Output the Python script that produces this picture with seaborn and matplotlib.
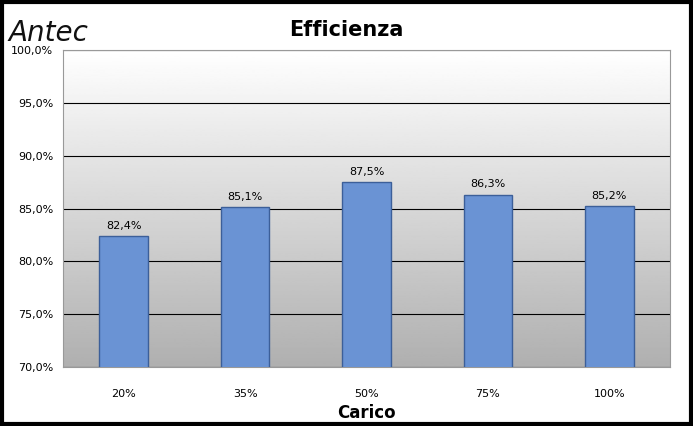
import numpy as np
import pandas as pd
import matplotlib
matplotlib.use('Agg')
import matplotlib.pyplot as plt
import seaborn as sns
from matplotlib.patches import Rectangle

loads = ['20%', '35%', '50%', '75%', '100%']
efficiency = [82.4, 85.1, 87.5, 86.3, 85.2]
yticks = [70, 75, 80, 85, 90, 95, 100]

df = pd.DataFrame({'Carico': loads, 'Efficienza': efficiency})

sns.set_style('white')
plt.rcParams['font.family'] = ['DejaVu Sans']
plt.rcParams['text.color'] = 'black'
plt.rcParams['xtick.color'] = 'black'
plt.rcParams['ytick.color'] = 'black'

fig = plt.figure(figsize=(6.93, 4.26), dpi=100)
ax = fig.add_axes([63/693, 1-367/426, 607/693, 317/426])

# gradient background: white at top, grey at bottom
grad = np.linspace(0, 1, 256).reshape(-1, 1)
ax.imshow(grad, extent=[-0.5, 4.5, 70, 100], aspect='auto', cmap='gray',
          vmin=-2.2, vmax=1, origin='lower', zorder=0)

sns.barplot(data=df, x='Carico', y='Efficienza', color='#6a93d4', width=0.4,
            saturation=1, edgecolor='#3c5f99', linewidth=1, ax=ax, zorder=3)

for i, v in enumerate(efficiency):
    ax.text(i, v + 0.5, f'{v:.1f}%'.replace('.', ','), ha='center', va='bottom',
            fontsize=8, zorder=4)

ax.set_ylim(70, 100)
ax.set_xlim(-0.5, 4.5)
ax.set_yticks(yticks)
ax.set_yticklabels([f'{t:.1f}%'.replace('.', ',') for t in yticks], fontsize=8)
ax.tick_params(axis='x', labelsize=8, pad=12)
ax.grid(axis='y', color='black', linewidth=0.8, zorder=1)
ax.set_axisbelow(True)
for s in ax.spines.values():
    s.set_color('#999999')
ax.set_xlabel('Carico', fontsize=12, fontweight='bold', labelpad=4, color='black')
ax.set_ylabel('')

fig.text(0.5, 1-30/426, 'Efficienza', ha='center', va='center',
         fontsize=15, fontweight='bold')
fig.text(8/693, 1-33/426, 'Antec', ha='left', va='center', fontsize=20,
         style='italic', color='#111111')

# outer border
fig.patches.append(Rectangle((0.003, 0.005), 0.994, 0.99, transform=fig.transFigure,
                             fill=False, edgecolor='black', linewidth=3))

fig.savefig('out.png', dpi=100)
